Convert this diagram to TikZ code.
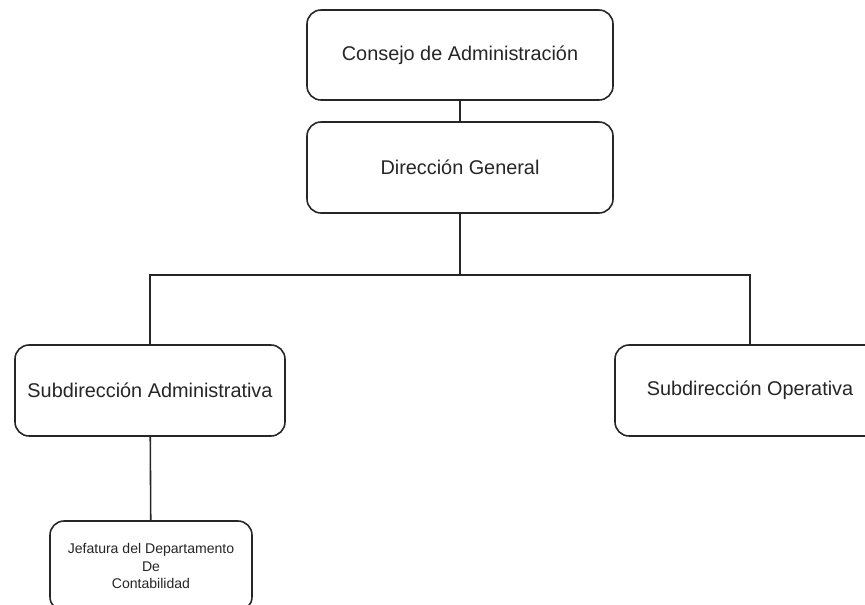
\documentclass[tikz,border=0pt]{standalone}
\usepackage{fontspec}
\setmainfont{Liberation Sans}
\usepackage{tikz}
\usetikzlibrary{positioning,calc}

\begin{document}
\begin{tikzpicture}[
    link/.style={draw=black!85,line width=0.9pt},
    unit/.style={draw=black!85,line width=0.9pt,fill=white,rounded corners=8pt,
      minimum width=6.12cm,minimum height=1.8cm,align=center,font=\fontsize{11.3}{13}\selectfont,
      text=black!85},
    subunit/.style={unit,minimum width=5.4cm,minimum height=1.82cm},
    dept/.style={unit,minimum width=4.04cm,minimum height=1.8cm,
      font=\fontsize{8}{10.2}\selectfont}
  ]
    \clip (0,0) rectangle (17.3,12.08);
    \node[unit] (consejo) at (9.2,10.98) {Consejo de Administración};
    \node[unit,minimum height=1.82cm] (direccion) at (9.2,8.73) {Dirección General};
    \coordinate (bus) at (9.2,6.58);
    \node[subunit] (subadmin) at (3.0,4.27) {Subdirección Administrativa};
    \node[subunit] (subop) at (15.0,4.27) {Subdirección Operativa};
    \node[dept] (jefatura) at (3.02,0.76) {Jefatura del Departamento\\De\\Contabilidad};
    \draw[link] (consejo) -- (direccion);
    \draw[link] (direccion) -- (bus);
    \draw[link] (bus) -| (subadmin);
    \draw[link] (bus) -| (subop);
    \draw[link] (subadmin) -- (jefatura);
\end{tikzpicture}
\end{document}
